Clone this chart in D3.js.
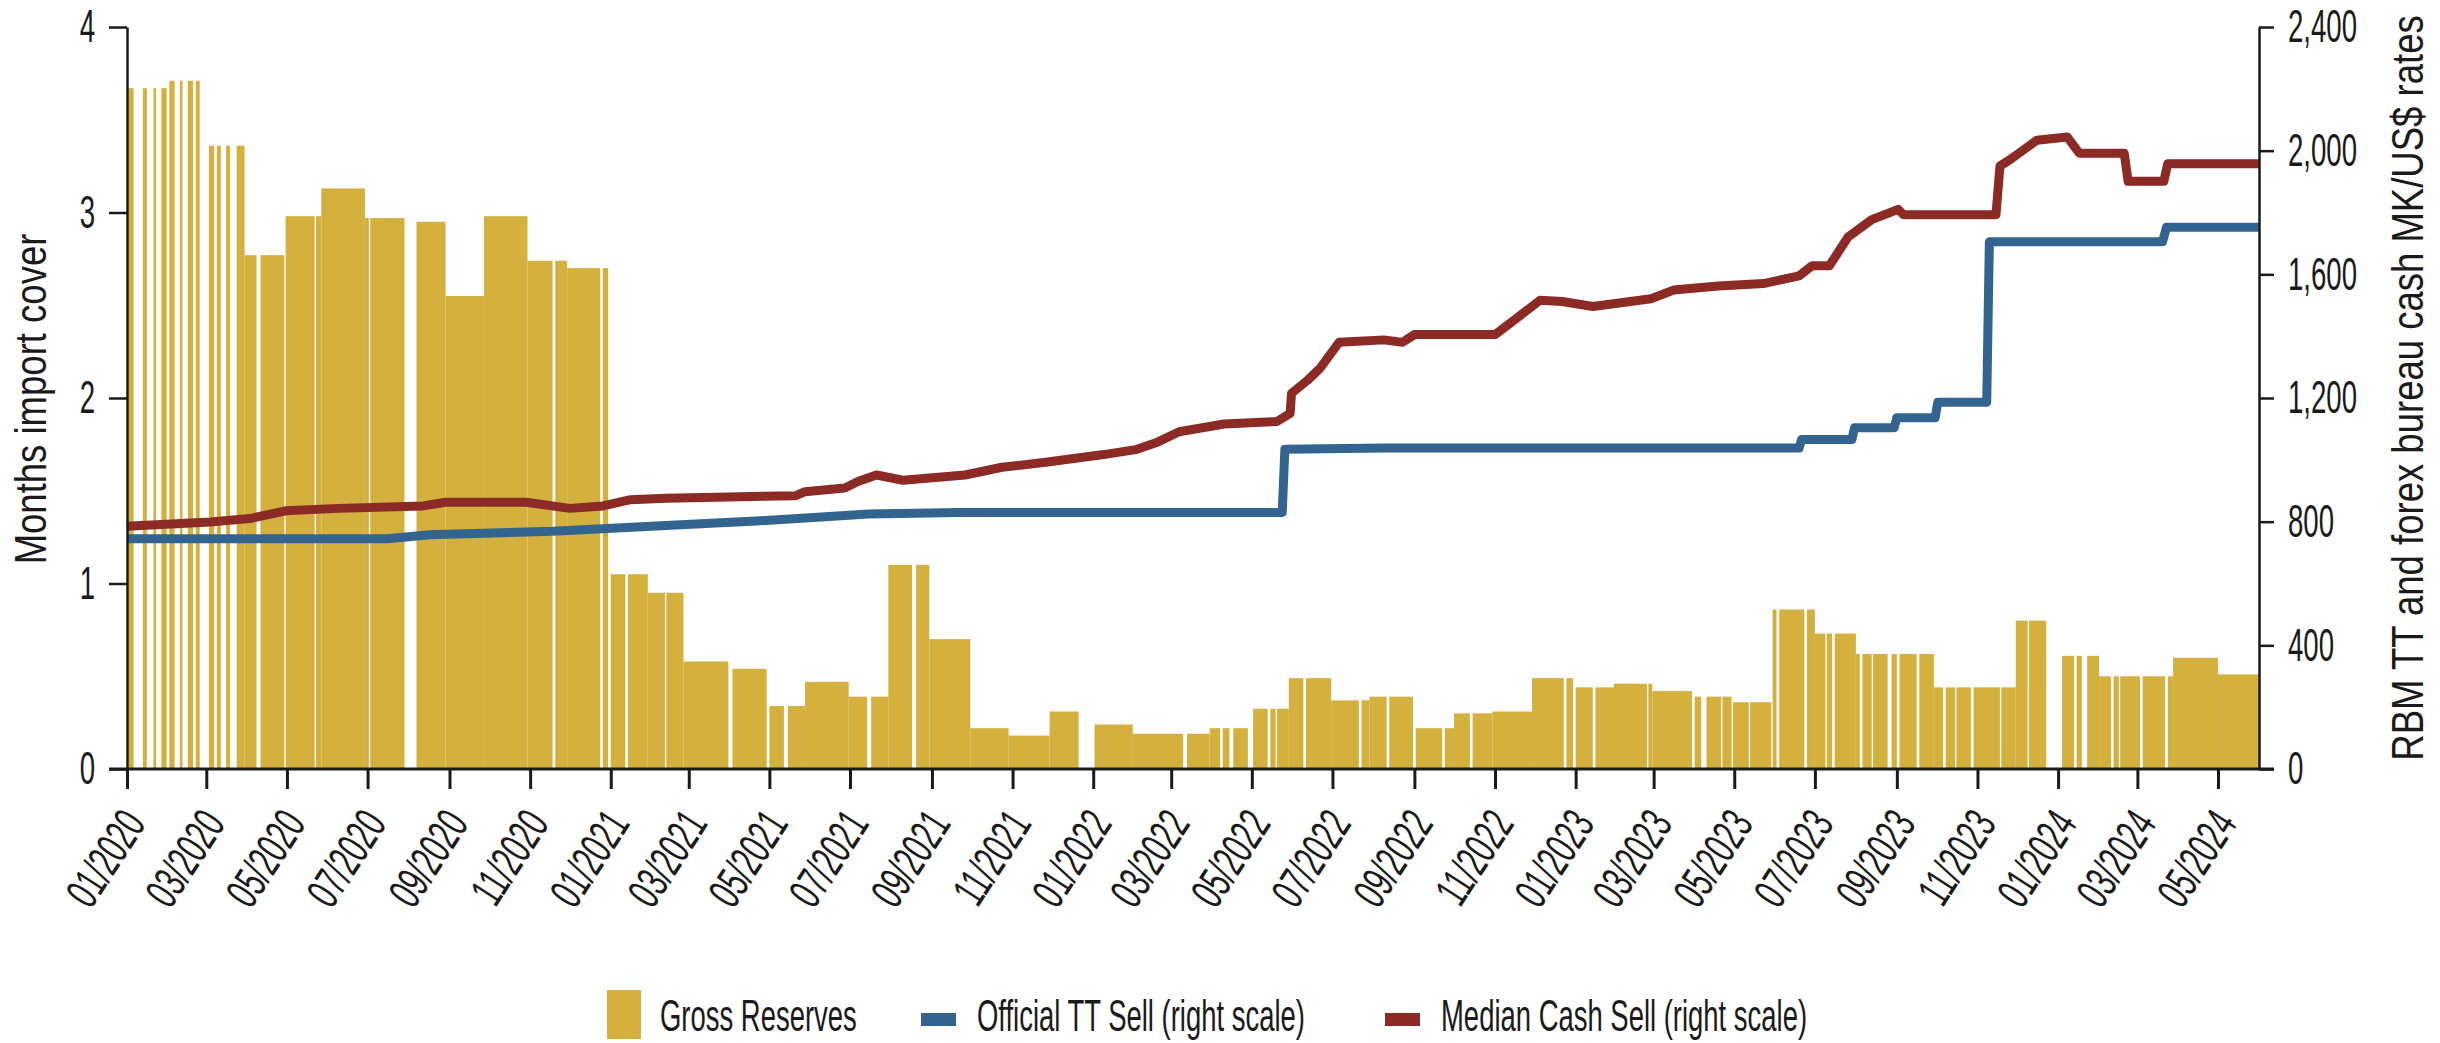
<!DOCTYPE html>
<html>
<head>
<meta charset="utf-8">
<script src="https://cdn.jsdelivr.net/npm/d3@7"></script>
<style>
  html, body { margin: 0; padding: 0; background: #fff; }
  svg { display: block; font-family: "Liberation Sans", Arial, sans-serif; }
</style>
</head>
<body>
<svg id="chart" width="2440" height="1043"></svg>
<script>
// Gross reserves: [from, to, months of import cover]
const grossReserves = [
  ['2020-01-02','2020-01-06',3.67], ['2020-01-13','2020-01-16',3.67], ['2020-01-21','2020-01-23',3.67],
  ['2020-01-27','2020-01-31',3.67], ['2020-02-02','2020-02-06',3.71], ['2020-02-10','2020-02-12',3.71],
  ['2020-02-16','2020-02-20',3.71], ['2020-02-22','2020-02-25',3.71], ['2020-03-03','2020-03-07',3.36],
  ['2020-03-09','2020-03-12',3.36], ['2020-03-16','2020-03-19',3.36], ['2020-03-24','2020-03-30',3.36],
  ['2020-03-30','2020-04-08',2.77], ['2020-04-11','2020-04-29',2.77], ['2020-04-30','2020-05-22',2.98],
  ['2020-05-23','2020-05-27',2.98], ['2020-05-27','2020-06-29',3.13], ['2020-06-29','2020-07-02',2.97],
  ['2020-07-03','2020-07-29',2.97], ['2020-08-07','2020-08-29',2.95], ['2020-08-29','2020-09-27',2.55],
  ['2020-09-27','2020-10-30',2.98], ['2020-10-30','2020-11-18',2.74], ['2020-11-20','2020-11-29',2.74],
  ['2020-11-29','2020-12-24',2.70], ['2020-12-26','2020-12-30',2.70], ['2021-01-01','2021-01-12',1.05],
  ['2021-01-14','2021-01-29',1.05], ['2021-01-29','2021-02-11',0.95], ['2021-02-12','2021-02-25',0.95],
  ['2021-02-25','2021-03-31',0.58], ['2021-04-03','2021-04-29',0.54], ['2021-05-01','2021-05-12',0.34],
  ['2021-05-15','2021-05-28',0.34], ['2021-05-28','2021-06-30',0.47], ['2021-06-30','2021-07-14',0.39],
  ['2021-07-17','2021-07-30',0.39], ['2021-07-30','2021-08-17',1.10], ['2021-08-20','2021-08-30',1.10],
  ['2021-08-30','2021-09-30',0.70], ['2021-09-30','2021-10-29',0.22], ['2021-10-29','2021-11-29',0.18],
  ['2021-11-29','2021-12-21',0.31], ['2022-01-02','2022-01-31',0.24], ['2022-01-31','2022-03-10',0.19],
  ['2022-03-13','2022-03-30',0.19], ['2022-03-30','2022-04-07',0.22], ['2022-04-09','2022-04-14',0.22],
  ['2022-04-17','2022-04-28',0.22], ['2022-05-02','2022-05-13',0.325], ['2022-05-15','2022-05-19',0.325],
  ['2022-05-20','2022-05-29',0.325], ['2022-05-29','2022-06-09',0.49], ['2022-06-11','2022-06-30',0.49],
  ['2022-06-30','2022-07-21',0.37], ['2022-07-23','2022-07-29',0.37], ['2022-07-29','2022-08-11',0.39],
  ['2022-08-13','2022-08-31',0.39], ['2022-09-02','2022-09-22',0.22], ['2022-09-24','2022-10-01',0.22],
  ['2022-10-01','2022-10-13',0.30], ['2022-10-15','2022-10-30',0.30], ['2022-10-30','2022-11-29',0.31],
  ['2022-11-29','2022-12-23',0.49], ['2022-12-25','2022-12-30',0.49], ['2023-01-01','2023-01-14',0.44],
  ['2023-01-16','2023-01-30',0.44], ['2023-01-30','2023-02-24',0.46], ['2023-02-25','2023-02-28',0.46],
  ['2023-02-28','2023-03-30',0.42], ['2023-04-01','2023-04-06',0.39], ['2023-04-10','2023-04-21',0.39],
  ['2023-04-22','2023-04-29',0.39], ['2023-04-30','2023-05-12',0.36], ['2023-05-13','2023-05-29',0.36],
  ['2023-05-30','2023-06-02',0.86], ['2023-06-04','2023-06-23',0.86], ['2023-06-25','2023-07-01',0.86],
  ['2023-07-01','2023-07-09',0.73], ['2023-07-10','2023-07-14',0.73], ['2023-07-16','2023-08-01',0.73],
  ['2023-08-01','2023-08-04',0.62], ['2023-08-06','2023-08-13',0.62], ['2023-08-14','2023-08-25',0.62],
  ['2023-08-28','2023-09-01',0.62], ['2023-09-03','2023-09-16',0.62], ['2023-09-18','2023-09-29',0.62],
  ['2023-09-29','2023-10-06',0.44], ['2023-10-08','2023-10-15',0.44], ['2023-10-16','2023-10-27',0.44],
  ['2023-10-29','2023-11-18',0.44], ['2023-11-19','2023-11-30',0.44], ['2023-11-30','2023-12-09',0.80],
  ['2023-12-10','2023-12-23',0.80], ['2024-01-04','2024-01-13',0.61], ['2024-01-15','2024-01-19',0.61],
  ['2024-01-23','2024-02-01',0.61], ['2024-02-01','2024-02-10',0.50], ['2024-02-12','2024-02-16',0.50],
  ['2024-02-17','2024-03-03',0.50], ['2024-03-05','2024-03-22',0.50], ['2024-03-24','2024-03-28',0.50],
  ['2024-03-28','2024-05-01',0.60], ['2024-05-01','2024-06-01',0.51]
];

// Official TT sell rate, MK/US$
const officialTT = [
  ['2020-01-01',745], ['2020-07-16',745], ['2020-08-17',758], ['2020-11-18',769], ['2021-03-10',793],
  ['2021-04-21',802], ['2021-07-15',825], ['2021-09-21',830], ['2022-05-24',830], ['2022-05-26',1034],
  ['2022-08-10',1038], ['2023-06-19',1038], ['2023-06-21',1066], ['2023-07-29',1066], ['2023-07-31',1104],
  ['2023-08-30',1104], ['2023-09-01',1136], ['2023-09-30',1136], ['2023-10-02',1186], ['2023-11-08',1186],
  ['2023-11-10',1705], ['2024-03-20',1705], ['2024-03-23',1752], ['2024-06-01',1752]
];

// Median forex bureau cash sell rate, MK/US$
const medianCash = [
  ['2020-01-01',785], ['2020-03-04',799], ['2020-04-03',810], ['2020-04-30',835], ['2020-06-09',843],
  ['2020-08-12',851], ['2020-08-29',863], ['2020-10-29',863], ['2020-12-01',843], ['2020-12-26',851],
  ['2021-01-16',871], ['2021-02-12',876], ['2021-05-21',884], ['2021-05-28',897], ['2021-06-27',909],
  ['2021-07-07',930], ['2021-07-21',951], ['2021-08-10',934], ['2021-09-26',951], ['2021-10-24',976],
  ['2021-11-26',992], ['2022-01-09',1017], ['2022-02-02',1033], ['2022-02-19',1058], ['2022-03-07',1091],
  ['2022-04-10',1116], ['2022-05-20',1124], ['2022-05-30',1150], ['2022-05-31',1215], ['2022-06-12',1257],
  ['2022-06-22',1298], ['2022-07-06',1380], ['2022-08-09',1388], ['2022-08-23',1380], ['2022-09-01',1405],
  ['2022-11-01',1405], ['2022-11-14',1447], ['2022-12-05',1516], ['2022-12-22',1512], ['2023-01-14',1496],
  ['2023-02-27',1521], ['2023-03-16',1549], ['2023-04-19',1562], ['2023-05-23',1570], ['2023-06-19',1595],
  ['2023-06-29',1628], ['2023-07-12',1628], ['2023-07-26',1720], ['2023-08-13',1777], ['2023-09-02',1810],
  ['2023-09-06',1793], ['2023-11-15',1793], ['2023-11-18',1950], ['2023-11-27',1975], ['2023-12-16',2034],
  ['2024-01-08',2044], ['2024-01-17',1992], ['2024-02-20',1992], ['2024-02-23',1901], ['2024-03-21',1901],
  ['2024-03-24',1958], ['2024-06-01',1958]
];

const leftTicks = [0, 1, 2, 3, 4];
const rightTicks = [0, 400, 800, 1200, 1600, 2000, 2400];
const legendNames = ['Gross Reserves', 'Official TT Sell (right scale)', 'Median Cash Sell (right scale)'];

const GOLD = '#d4b03f', BLUE = '#33638f', RED = '#8c2b25', INK = '#1a1a1a';
const parse = d3.timeParse('%Y-%m-%d');

const svg = d3.select('#chart');
const plot = { left: 127, right: 2259, top: 27, bottom: 769 };

const x = d3.scaleTime()
  .domain([parse('2020-01-01'), parse('2024-06-01')])
  .range([plot.left, plot.right]);
const yLeft = d3.scaleLinear().domain([0, 4]).range([plot.bottom, plot.top]);
const yRight = d3.scaleLinear().domain([0, 2400]).range([plot.bottom, plot.top]);

// bars
svg.append('g')
  .selectAll('rect')
  .data(grossReserves)
  .join('rect')
  .attr('x', d => x(parse(d[0])))
  .attr('width', d => x(parse(d[1])) - x(parse(d[0])))
  .attr('y', d => yLeft(d[2]))
  .attr('height', d => yLeft(0) - yLeft(d[2]))
  .attr('fill', GOLD);

// lines
const rateLine = d3.line()
  .x(d => x(parse(d[0])))
  .y(d => yRight(d[1]));

svg.append('path')
  .datum(officialTT)
  .attr('d', rateLine)
  .attr('fill', 'none')
  .attr('stroke', BLUE)
  .attr('stroke-width', 9)
  .attr('stroke-linejoin', 'round');

svg.append('path')
  .datum(medianCash)
  .attr('d', rateLine)
  .attr('fill', 'none')
  .attr('stroke', RED)
  .attr('stroke-width', 9)
  .attr('stroke-linejoin', 'round');

// axes
const tickFont = 46, tickSqueeze = 0.6;

const leftAxis = svg.append('g')
  .attr('transform', `translate(${plot.left},0)`)
  .call(d3.axisLeft(yLeft).tickValues(leftTicks).tickSize(18).tickSizeOuter(0)
    .tickFormat(d3.format('d')));
leftAxis.selectAll('text')
  .attr('x', -32 / tickSqueeze)
  .attr('transform', `scale(${tickSqueeze},1)`);

const rightAxis = svg.append('g')
  .attr('transform', `translate(${plot.right},0)`)
  .call(d3.axisRight(yRight).tickValues(rightTicks).tickSize(15).tickSizeOuter(0)
    .tickFormat(d3.format(',')));
rightAxis.selectAll('text')
  .attr('x', 29 / tickSqueeze)
  .attr('transform', `scale(${tickSqueeze},1)`);

const bottomAxis = svg.append('g')
  .attr('transform', `translate(0,${plot.bottom})`)
  .call(d3.axisBottom(x).ticks(d3.timeMonth.every(2)).tickSize(20).tickSizeOuter(0)
    .tickFormat(d3.timeFormat('%m/%Y')));
bottomAxis.select('.domain').remove();
bottomAxis.selectAll('text')
  .attr('y', 0)
  .attr('dy', '0.35em')
  .attr('transform', 'translate(6,46) rotate(-57) scale(0.62,1)')
  .style('text-anchor', 'end');
bottomAxis.selectAll('line').attr('stroke-width', 3);

// baseline across both axes
svg.append('line')
  .attr('x1', plot.left - 18).attr('x2', plot.right + 15)
  .attr('y1', plot.bottom).attr('y2', plot.bottom)
  .attr('stroke', INK).attr('stroke-width', 3);

svg.selectAll('.domain').attr('stroke', INK).attr('stroke-width', 2.5);
svg.selectAll('.tick line').attr('stroke', INK);
leftAxis.selectAll('.tick line').attr('stroke-width', 2.5);
rightAxis.selectAll('.tick line').attr('stroke-width', 2.5);
svg.selectAll('.tick text')
  .attr('fill', INK)
  .style('font-size', tickFont + 'px')
  .style('font-family', '"Liberation Sans", Arial, sans-serif');

// axis titles
svg.append('text')
  .attr('transform', 'translate(31,399) rotate(-90) scale(0.83,1)')
  .attr('text-anchor', 'middle')
  .attr('dy', '0.35em')
  .style('font-size', '44px')
  .attr('fill', INK)
  .text('Months import cover');

svg.append('text')
  .attr('transform', 'translate(2408,388) rotate(-90) scale(0.83,1)')
  .attr('text-anchor', 'middle')
  .attr('dy', '0.35em')
  .style('font-size', '44px')
  .attr('fill', INK)
  .text('RBM TT and forex bureau cash MK/US$ rates');

// legend
const legend = svg.append('g');
const legendSwatch = [
  { x: 607, y: 990, w: 34, h: 49, c: GOLD, tx: 660 },
  { x: 921, y: 1013, w: 35, h: 13, c: BLUE, tx: 977 },
  { x: 1385, y: 1013, w: 35, h: 13, c: RED, tx: 1441 }
];
legendNames.forEach((name, i) => {
  const s = legendSwatch[i];
  legend.append('rect')
    .attr('x', s.x).attr('y', s.y).attr('width', s.w).attr('height', s.h)
    .attr('fill', s.c);
  legend.append('text')
    .attr('transform', `translate(${s.tx},1031) scale(0.61,1)`)
    .style('font-size', '45px')
    .attr('fill', INK)
    .text(name);
});
</script>
</body>
</html>
